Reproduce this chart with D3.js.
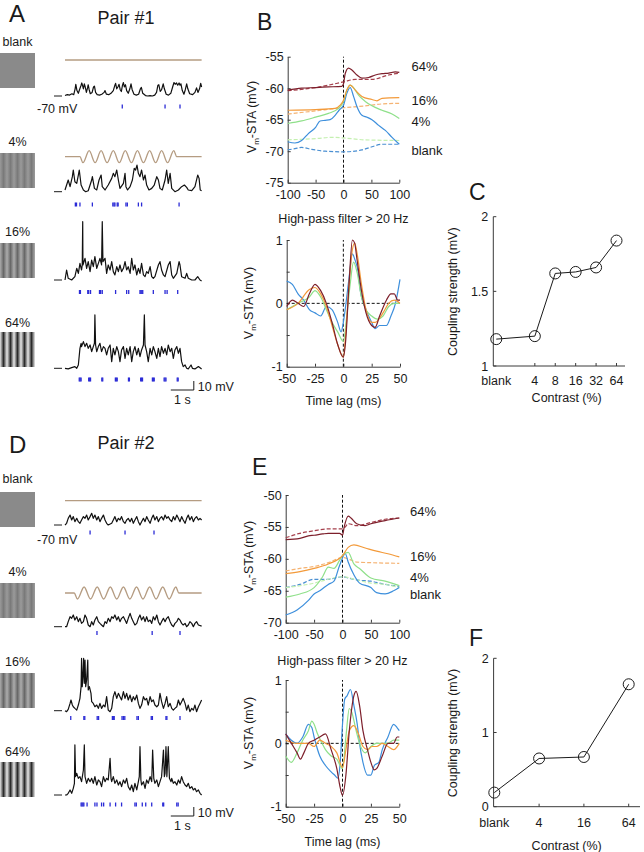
<!DOCTYPE html>
<html><head><meta charset="utf-8">
<script src="https://cdn.jsdelivr.net/npm/d3@7"></script>
<style>
body{margin:0;background:#fff;}
svg{display:block;font-family:"Liberation Sans",Arial,Helvetica,sans-serif;}
</style></head><body>
<svg id="fig" width="644" height="852"></svg>
<script>
// ---------------- DATA ----------------
const conditions = ["blank", "4%", "16%", "64%"];
const gratingContrast = [0, 4, 16, 64];

// stimulus time courses (s, normalized luminance)
const stimFlat = [[0,0],[5.94,0]];
const stimSine1 = [[0,0],[0.65,0],[0.78,-1],[1.05,1],[1.31,-1],[1.57,1],[1.83,-1],[2.10,1],[2.36,-1],[2.62,1],[2.89,-1],[3.15,1],[3.41,-1],[3.68,1],[3.94,-1],[4.20,1],[4.46,-1],[4.73,1],[4.86,0],[5.94,0]];
const stimSine2 = [[0,0],[0.40,0],[0.54,-1],[0.83,1],[1.11,-1],[1.40,1],[1.68,-1],[1.97,1],[2.25,-1],[2.54,1],[2.82,-1],[3.11,1],[3.39,-1],[3.68,1],[3.96,-1],[4.25,1],[4.53,-1],[4.82,1],[4.95,0],[5.94,0]];

// Pair #1 membrane potential (s, mV)
const vmA_blank = [[0,-69.5],[0.1,-68.5],[0.2,-69],[0.3,-67.5],[0.38,-68.5],[0.44,-62],[0.47,-57],[0.52,-64],[0.58,-67],[0.63,-63],[0.7,-58],[0.73,-55.5],[0.77,-59],[0.8,-62],[0.84,-56.5],[0.88,-60],[0.93,-66],[0.98,-61],[1.01,-57.5],[1.05,-63],[1.1,-67.5],[1.18,-66],[1.24,-60],[1.28,-59],[1.33,-66],[1.4,-68.5],[1.5,-69],[1.6,-68],[1.7,-66],[1.74,-64],[1.8,-68],[1.9,-68.5],[2.0,-67],[2.1,-64],[2.17,-58],[2.2,-56],[2.25,-62],[2.3,-60],[2.35,-57],[2.4,-63],[2.45,-65],[2.5,-58],[2.54,-55],[2.58,-60],[2.63,-57.5],[2.68,-64],[2.75,-67],[2.82,-62],[2.87,-56.5],[2.92,-63],[3.0,-68],[3.1,-69],[3.2,-68],[3.28,-62],[3.32,-60.5],[3.38,-67],[3.5,-69.5],[3.6,-70],[3.7,-69.5],[3.8,-70],[3.9,-69],[3.98,-66],[4.04,-58],[4.08,-57.5],[4.14,-65],[4.2,-63],[4.27,-56.5],[4.32,-62],[4.4,-68],[4.5,-69],[4.6,-67],[4.68,-60],[4.74,-55],[4.79,-57],[4.85,-55.5],[4.9,-58],[4.96,-55.5],[5.0,-58],[5.04,-56.5],[5.1,-64],[5.17,-68],[5.23,-63],[5.29,-56.5],[5.34,-62],[5.42,-67.5],[5.55,-68.5],[5.65,-66],[5.72,-61],[5.78,-66],[5.85,-62],[5.9,-56],[5.94,-60]];
const vmA_4 = [[0.00,-68.1],[0.07,-62.6],[0.14,-57.0],[0.22,-64.4],[0.32,-53.3],[0.36,-45.9],[0.43,-58.9],[0.51,-60.7],[0.58,-51.5],[0.62,-45.9],[0.70,-62.6],[0.80,-68.1],[0.90,-70],[1.01,-68.9],[1.16,-57.0],[1.19,-53.3],[1.28,-66.3],[1.38,-68.1],[1.48,-57.0],[1.57,-51.5],[1.62,-64.4],[1.74,-68.1],[1.88,-62.6],[2.03,-55.2],[2.10,-49.6],[2.17,-53.3],[2.25,-45.9],[2.32,-57.0],[2.39,-66.3],[2.54,-60.7],[2.61,-49.6],[2.65,-64.4],[2.72,-68.1],[2.83,-64.4],[2.93,-57.0],[3.01,-44.1],[3.07,-45.9],[3.13,-40.4],[3.19,-49.6],[3.26,-53.3],[3.33,-45.9],[3.41,-57.0],[3.48,-51.5],[3.55,-62.6],[3.65,-68.1],[3.77,-66.3],[3.88,-62.6],[3.99,-53.3],[4.06,-57.0],[4.13,-66.3],[4.23,-68.1],[4.35,-57.0],[4.42,-45.9],[4.49,-60.7],[4.57,-49.6],[4.64,-66.3],[4.78,-70],[4.93,-68.1],[5.07,-64.4],[5.19,-62.6],[5.29,-65.2],[5.36,-68.1],[5.51,-68.9],[5.65,-64.4],[5.77,-51.5],[5.83,-55.2],[5.88,-68.1],[5.94,-68.9]];
const vmA_16 = [[0.00,-70],[0.07,-58.9],[0.14,-68.1],[0.29,-70],[0.43,-66.3],[0.51,-57.0],[0.58,-62.6],[0.65,-51.5],[0.72,-58.9],[0.75,-53.3],[0.77,-5.2],[0.78,-53.3],[0.87,-45.9],[0.94,-57.0],[1.01,-49.6],[1.09,-60.7],[1.16,-47.8],[1.23,-55.2],[1.30,-44.1],[1.38,-57.0],[1.45,-51.5],[1.52,-45.9],[1.59,-53.3],[1.62,-5.2],[1.65,-49.6],[1.74,-45.9],[1.81,-62.6],[1.88,-53.3],[1.96,-58.9],[2.03,-49.6],[2.10,-60.7],[2.17,-64.4],[2.25,-55.2],[2.32,-60.7],[2.39,-53.3],[2.46,-60.7],[2.54,-57.0],[2.61,-49.6],[2.68,-58.9],[2.75,-55.2],[2.83,-62.6],[2.90,-45.9],[2.97,-58.9],[3.04,-53.3],[3.12,-64.4],[3.19,-57.0],[3.26,-62.6],[3.33,-51.5],[3.41,-64.4],[3.48,-66.3],[3.55,-60.7],[3.62,-62.6],[3.70,-55.2],[3.77,-66.3],[3.84,-68.1],[3.91,-66.3],[4.06,-53.3],[4.13,-49.6],[4.20,-58.9],[4.28,-64.4],[4.35,-66.3],[4.49,-53.3],[4.57,-49.6],[4.64,-64.4],[4.71,-68.1],[4.86,-62.6],[4.96,-49.6],[5.00,-53.3],[5.07,-66.3],[5.22,-68.1],[5.29,-62.6],[5.36,-68.1],[5.51,-70],[5.65,-70],[5.77,-66.3],[5.87,-70],[5.94,-71]];
const vmA_64 = [[0.00,-70],[0.14,-70.7],[0.29,-69.3],[0.43,-68.1],[0.51,-70],[0.58,-66.3],[0.65,-47.8],[0.70,-42.2],[0.72,-45.9],[0.80,-40.4],[0.87,-45.9],[0.94,-42.2],[1.01,-47.8],[1.09,-44.1],[1.16,-51.5],[1.23,-45.9],[1.28,-42.2],[1.30,-10.7],[1.33,-44.1],[1.38,-51.5],[1.45,-45.9],[1.52,-42.2],[1.59,-51.5],[1.67,-45.9],[1.74,-47.8],[1.81,-55.2],[1.88,-47.8],[1.96,-44.1],[2.03,-62.6],[2.10,-47.8],[2.17,-55.2],[2.25,-45.9],[2.32,-51.5],[2.39,-62.6],[2.46,-49.6],[2.54,-45.9],[2.61,-58.9],[2.68,-47.8],[2.75,-55.2],[2.83,-45.9],[2.90,-62.6],[2.97,-51.5],[3.04,-45.9],[3.12,-55.2],[3.19,-47.8],[3.26,-57.0],[3.33,-49.6],[3.41,-44.1],[3.45,-10.7],[3.48,-44.1],[3.55,-51.5],[3.62,-62.6],[3.70,-47.8],[3.77,-55.2],[3.84,-45.9],[3.91,-51.5],[3.99,-58.9],[4.06,-47.8],[4.13,-57.0],[4.20,-45.9],[4.28,-53.3],[4.35,-47.8],[4.42,-55.2],[4.49,-44.1],[4.57,-51.5],[4.64,-47.8],[4.71,-58.9],[4.78,-49.6],[4.86,-45.9],[4.93,-53.3],[5.00,-47.8],[5.07,-62.6],[5.14,-68.1],[5.22,-66.3],[5.29,-70],[5.36,-70.7],[5.48,-66.3],[5.54,-70],[5.65,-70.7],[5.80,-68.1],[5.94,-70.7]];

// Pair #2 membrane potential (s, mV)
const vmD_blank = [[0.00,-70],[0.07,-68.1],[0.14,-62.6],[0.22,-58.9],[0.29,-64.4],[0.36,-60.7],[0.43,-66.3],[0.51,-62.6],[0.58,-66.3],[0.65,-68.1],[0.72,-64.4],[0.80,-60.7],[0.87,-62.6],[0.94,-58.9],[1.01,-64.4],[1.09,-60.7],[1.16,-57.0],[1.23,-62.6],[1.30,-58.9],[1.38,-64.4],[1.45,-60.7],[1.52,-66.3],[1.59,-62.6],[1.67,-58.9],[1.74,-64.4],[1.81,-68.1],[1.88,-70],[2.03,-68.1],[2.10,-64.4],[2.17,-60.7],[2.25,-66.3],[2.32,-62.6],[2.39,-64.4],[2.46,-60.7],[2.54,-66.3],[2.61,-68.1],[2.68,-64.4],[2.75,-62.6],[2.83,-66.3],[2.90,-62.6],[2.97,-68.1],[3.04,-64.4],[3.12,-60.7],[3.19,-66.3],[3.26,-70],[3.33,-66.3],[3.41,-62.6],[3.48,-66.3],[3.55,-60.7],[3.62,-64.4],[3.70,-68.1],[3.77,-62.6],[3.84,-58.9],[3.91,-64.4],[3.99,-60.7],[4.06,-66.3],[4.13,-62.6],[4.20,-60.7],[4.28,-64.4],[4.35,-58.9],[4.42,-62.6],[4.49,-60.7],[4.57,-64.4],[4.64,-66.3],[4.71,-60.7],[4.78,-64.4],[4.86,-58.9],[4.93,-62.6],[5.00,-66.3],[5.07,-60.7],[5.14,-64.4],[5.22,-68.1],[5.29,-62.6],[5.36,-58.9],[5.43,-64.4],[5.51,-60.7],[5.58,-66.3],[5.65,-62.6],[5.72,-60.7],[5.80,-64.4],[5.87,-62.6],[5.94,-64.4]];
const vmD_4 = [[0.00,-70],[0.07,-70],[0.14,-64.4],[0.22,-58.9],[0.29,-60.7],[0.36,-57.0],[0.43,-62.6],[0.51,-58.9],[0.58,-64.4],[0.65,-60.7],[0.72,-66.3],[0.80,-64.4],[0.87,-57.0],[0.94,-60.7],[1.01,-68.1],[1.09,-70],[1.16,-64.4],[1.23,-68.1],[1.30,-62.6],[1.38,-58.9],[1.45,-64.4],[1.52,-66.3],[1.59,-68.1],[1.67,-70],[1.74,-64.4],[1.81,-66.3],[1.88,-60.7],[1.96,-64.4],[2.03,-58.9],[2.10,-60.7],[2.17,-57.0],[2.25,-62.6],[2.32,-58.9],[2.39,-64.4],[2.46,-60.7],[2.54,-58.9],[2.61,-62.6],[2.68,-66.3],[2.75,-60.7],[2.83,-55.2],[2.90,-60.7],[2.97,-64.4],[3.04,-68.1],[3.12,-66.3],[3.19,-60.7],[3.26,-57.0],[3.33,-62.6],[3.41,-58.9],[3.48,-64.4],[3.55,-58.9],[3.62,-64.4],[3.70,-62.6],[3.77,-66.3],[3.84,-58.9],[3.91,-62.6],[3.99,-57.0],[4.06,-64.4],[4.13,-68.1],[4.20,-64.4],[4.28,-60.7],[4.35,-64.4],[4.42,-60.7],[4.49,-58.9],[4.57,-64.4],[4.64,-68.1],[4.71,-70],[4.78,-66.3],[4.86,-64.4],[4.93,-60.7],[5.00,-62.6],[5.07,-66.3],[5.14,-68.1],[5.22,-66.3],[5.29,-70],[5.36,-68.1],[5.43,-64.4],[5.51,-66.3],[5.58,-70],[5.65,-66.3],[5.72,-64.4],[5.80,-68.1],[5.94,-69.3]];
const vmD_16 = [[0.00,-70],[0.07,-71.1],[0.14,-68.5],[0.22,-61.9],[0.26,-58.1],[0.32,-63.7],[0.36,-65.6],[0.43,-67.4],[0.51,-69.3],[0.58,-63.7],[0.65,-56.3],[0.70,-43.3],[0.72,-11.9],[0.75,-43.3],[0.78,-32.2],[0.81,-11.9],[0.84,-39.6],[0.87,-13.7],[0.90,-43.3],[0.94,-35.9],[0.99,-13.7],[1.01,-47.0],[1.06,-43.3],[1.13,-50.7],[1.16,-60.0],[1.23,-61.9],[1.30,-65.6],[1.38,-63.7],[1.45,-67.4],[1.52,-61.9],[1.59,-67.4],[1.67,-63.7],[1.74,-65.6],[1.81,-54.4],[1.88,-69.3],[1.96,-71.1],[2.03,-67.4],[2.10,-54.4],[2.17,-48.9],[2.25,-56.3],[2.32,-50.7],[2.39,-54.4],[2.46,-58.1],[2.54,-48.9],[2.61,-56.3],[2.68,-50.7],[2.75,-58.1],[2.83,-52.6],[2.90,-60.0],[2.97,-54.4],[3.04,-58.1],[3.12,-52.6],[3.19,-61.9],[3.26,-67.4],[3.33,-63.7],[3.41,-54.4],[3.48,-58.1],[3.55,-56.3],[3.62,-63.7],[3.70,-54.4],[3.77,-60.0],[3.84,-58.1],[3.91,-63.7],[3.99,-65.6],[4.06,-63.7],[4.13,-50.7],[4.20,-60.0],[4.28,-67.4],[4.35,-61.9],[4.42,-54.4],[4.49,-65.6],[4.57,-61.9],[4.64,-67.4],[4.71,-69.3],[4.78,-67.4],[4.86,-65.6],[4.93,-58.1],[5.00,-63.7],[5.07,-60.0],[5.14,-56.3],[5.22,-61.9],[5.29,-69.3],[5.36,-63.7],[5.43,-71.1],[5.51,-67.4],[5.58,-69.3],[5.65,-63.7],[5.72,-71.1],[5.80,-65.6],[5.87,-61.9],[5.94,-58.1]];
const vmD_64 = [[0.00,-70],[0.07,-70],[0.14,-68.1],[0.22,-64.4],[0.29,-68.1],[0.36,-62.6],[0.41,-57.0],[0.43,-14.4],[0.46,-49.6],[0.51,-45.9],[0.58,-51.5],[0.65,-49.6],[0.72,-55.2],[0.80,-42.2],[0.84,-14.4],[0.87,-49.6],[0.94,-57.0],[1.01,-51.5],[1.09,-55.2],[1.16,-51.5],[1.23,-57.0],[1.30,-49.6],[1.38,-58.9],[1.45,-53.3],[1.52,-55.2],[1.59,-60.7],[1.67,-49.6],[1.74,-55.2],[1.81,-51.5],[1.88,-53.3],[1.96,-29.3],[2.00,-51.5],[2.03,-55.2],[2.10,-49.6],[2.17,-57.0],[2.25,-53.3],[2.32,-58.9],[2.39,-55.2],[2.46,-60.7],[2.54,-53.3],[2.61,-57.0],[2.68,-51.5],[2.75,-60.7],[2.83,-64.4],[2.90,-58.9],[2.97,-66.3],[3.04,-57.0],[3.12,-64.4],[3.19,-55.2],[3.23,-49.6],[3.26,-16.3],[3.30,-53.3],[3.33,-58.9],[3.41,-55.2],[3.48,-62.6],[3.55,-53.3],[3.62,-57.0],[3.70,-49.6],[3.77,-55.2],[3.81,-20.0],[3.86,-51.5],[3.91,-57.0],[3.99,-53.3],[4.06,-60.7],[4.13,-55.2],[4.20,-49.6],[4.28,-20.0],[4.32,-49.6],[4.35,-45.9],[4.39,-16.3],[4.43,-49.6],[4.49,-16.3],[4.54,-51.5],[4.61,-55.2],[4.64,-51.5],[4.71,-57.0],[4.78,-55.2],[4.86,-58.9],[4.93,-53.3],[5.00,-57.0],[5.07,-49.6],[5.14,-55.2],[5.22,-58.9],[5.29,-60.7],[5.36,-57.0],[5.43,-62.6],[5.51,-60.7],[5.58,-64.4],[5.65,-62.6],[5.72,-66.3],[5.80,-64.4],[5.87,-68.1],[5.94,-70]];

// spike times of partner cell (s)
const spkA_blank = [2.49, 4.35, 5.0];
const spkA_4 = [0.45, 0.50, 0.65, 1.19, 2.08, 2.13, 2.17, 2.27, 2.31, 2.65, 2.71, 3.19, 3.33, 4.96];
const spkA_16 = [0.63, 0.67, 0.99, 1.03, 1.11, 1.50, 1.55, 1.62, 2.20, 2.68, 2.77, 3.26, 3.30, 3.34, 3.38, 3.84, 4.35, 4.44, 4.90];
const spkA_64 = [0.62, 0.66, 0.70, 1.03, 1.07, 1.11, 1.60, 1.64, 2.19, 2.23, 2.27, 2.76, 2.80, 3.29, 3.33, 3.37, 3.80, 3.84, 3.88, 4.31, 4.35, 4.39, 4.88, 4.92];
const spkD_blank = [1.09, 2.61, 3.87];
const spkD_4 = [1.39, 3.79, 5.0];
const spkD_16 = [0.25, 0.82, 0.86, 1.40, 1.46, 2.06, 2.10, 2.14, 2.48, 2.54, 2.60, 3.13, 3.19, 3.75, 3.80, 4.39, 4.43, 5.0];
const spkD_64 = [0.70, 0.74, 0.78, 0.82, 0.96, 1.30, 1.39, 1.59, 1.68, 1.96, 2.20, 2.46, 3.04, 3.10, 3.36, 3.51, 3.77, 4.25, 4.29, 4.86, 4.92];

// Panel B: Vm-STA (lag ms, mV)
const b64Solid = [[-100,-60.3],[-75,-60.0],[-50,-59.9],[-27,-59.8],[-3,-59.7],[0,-59.3],[3,-57.7],[9,-56.8],[15,-57.1],[24,-57.9],[33,-58.4],[45,-58.3],[57,-57.9],[69,-57.7],[81,-57.6],[93,-57.4],[100,-57.5]];
const b64Dash = [[-100,-60.4],[-50,-59.9],[0,-59.0],[21,-58.6],[51,-58.6],[81,-57.9],[100,-57.6]];
const b16Solid = [[-100,-63.5],[-50,-63.4],[-15,-63.2],[-6,-62.7],[0,-61.9],[6,-60.3],[12,-59.5],[21,-60.3],[33,-61.3],[51,-61.8],[60,-62.0],[69,-61.6],[100,-61.5]];
const b16Dash = [[-100,-64.1],[-50,-63.6],[0,-63.1],[39,-62.8],[69,-62.5],[100,-62.4]];
const b4Solid = [[-100,-65.6],[-75,-65.2],[-50,-64.6],[-27,-64.0],[-9,-63.2],[0,-62.1],[6,-60.3],[12,-59.5],[18,-59.9],[27,-61.1],[39,-62.1],[51,-62.8],[69,-63.5],[87,-64.1],[100,-64.8]];
const b4Dash = [[-100,-68.2],[-50,-68.0],[-21,-67.8],[0,-67.9],[39,-68.2],[100,-68.3]];
const bBlankSolid = [[-100,-68.5],[-87,-68.7],[-75,-68.3],[-63,-67.2],[-50,-66.2],[-42,-65.2],[-33,-65.1],[-24,-65.0],[-15,-64.3],[-8,-63.5],[0,-62.7],[6,-60.8],[12,-59.9],[18,-61.3],[24,-62.9],[33,-64.3],[42,-64.6],[51,-65.0],[63,-65.9],[75,-66.7],[87,-67.8],[100,-68.9]];
const bBlankDash = [[-100,-69.8],[-87,-69.6],[-75,-69.4],[-57,-69.7],[-33,-70.0],[0,-70.1],[33,-69.8],[51,-69.3],[69,-68.9],[100,-68.9]];

// Panel B: high-pass filtered STA (lag ms, mV)
const hpB_blank = [[-50,0.35],[-45,0.3],[-40,0.15],[-35,0.05],[-30,-0.1],[-25,-0.15],[-20,-0.2],[-15,-0.05],[-10,-0.1],[-5,-0.3],[-2,-0.45],[0,-0.3],[3,0.1],[5,0.4],[8,0.78],[10,0.7],[13,0.5],[15,0.2],[20,-0.1],[25,-0.3],[28,-0.4],[32,-0.35],[38,-0.35],[42,-0.2],[46,0.0],[50,0.38]];
const hpB_4 = [[-50,-0.1],[-40,0.0],[-30,0.1],[-25,0.2],[-20,0.1],[-15,-0.1],[-10,-0.3],[-5,-0.45],[0,-0.6],[3,-0.2],[6,0.3],[9,0.65],[12,0.5],[16,0.1],[20,-0.1],[25,-0.2],[30,-0.25],[35,-0.2],[40,-0.05],[45,0.0],[50,0.0]];
const hpB_16 = [[-50,-0.1],[-40,0.0],[-30,0.22],[-25,0.25],[-20,0.15],[-15,-0.05],[-10,-0.35],[-5,-0.65],[0,-0.85],[2,-0.5],[5,0.3],[8,0.85],[10,0.95],[12,0.8],[16,0.3],[20,-0.1],[25,-0.3],[28,-0.3],[35,-0.15],[40,0.0],[45,0.05],[50,0.0]];
const hpB_64 = [[-50,-0.05],[-45,0.05],[-40,0.0],[-35,-0.05],[-30,0.15],[-25,0.3],[-20,0.2],[-15,0.0],[-10,-0.3],[-5,-0.65],[0,-0.85],[2,-0.6],[5,0.3],[8,1.0],[10,0.95],[12,0.7],[16,0.2],[20,-0.15],[25,-0.35],[28,-0.38],[32,-0.2],[38,0.05],[42,0.15],[45,0.15],[48,0.05],[50,0.05]];

// Panel E: Vm-STA
const e64Solid = [[-100,-57.0],[-75,-56.8],[-60,-56.4],[-50,-56.3],[-35,-56.1],[-25,-56.0],[-5,-56.0],[0,-56.3],[3,-55.0],[10,-53.3],[15,-53.6],[25,-54.5],[40,-54.8],[50,-54.5],[75,-54.0],[100,-53.6]];
const e64Dash = [[-100,-56.7],[-75,-56.0],[-50,-55.6],[-25,-55.3],[0,-55.3],[5,-55.0],[10,-54.5],[25,-54.8],[50,-54.3],[75,-53.8],[100,-53.6]];
const e16Solid = [[-100,-62.3],[-75,-62.0],[-50,-61.5],[-25,-60.8],[0,-59.5],[10,-58.2],[20,-57.8],[40,-58.3],[60,-58.8],[80,-59.2],[100,-59.7]];
const e16Dash = [[-100,-61.9],[-75,-61.5],[-50,-61.2],[-25,-60.6],[0,-59.8],[10,-60.0],[25,-60.5],[50,-60.6],[100,-60.7]];
const e4Solid = [[-100,-66],[-75,-65.5],[-50,-64.5],[-35,-62.8],[-25,-61.3],[-15,-61.5],[-5,-60.2],[0,-59.5],[10,-59.0],[20,-60.8],[30,-61.5],[50,-63.0],[75,-63.5],[100,-64.2]];
const e4Dash = [[-100,-64.5],[-50,-63.8],[-25,-63.2],[0,-62.8],[25,-63.3],[50,-63.8],[75,-64.0],[100,-64.5]];
const eBlankSolid = [[-100,-68.8],[-80,-68.0],[-60,-66.5],[-50,-65.5],[-40,-65.0],[-25,-64.0],[-15,-63.5],[-5,-61.0],[5,-59.2],[10,-60.5],[20,-62.5],[30,-63.8],[50,-64.5],[60,-65.3],[75,-65.5],[90,-65.0],[100,-64.5]];
const eBlankDash = [[-100,-64.5],[-75,-64.0],[-50,-63.2],[-25,-63.2],[0,-62.8],[10,-63.0],[25,-63.3],[50,-63.5],[75,-64.0],[100,-64.3]];

// Panel E: high-pass filtered STA
const hpE_blank = [[-50,0.15],[-45,0.05],[-40,0.0],[-35,0.1],[-30,0.3],[-27,0.25],[-25,0.1],[-20,-0.2],[-15,-0.35],[-10,-0.45],[-7,-0.5],[-4,-0.55],[-2,-0.3],[0,0.3],[2,0.7],[4,0.75],[7,0.85],[10,0.6],[13,0.3],[15,0.0],[18,-0.3],[22,-0.5],[25,-0.5],[28,-0.35],[32,-0.3],[35,-0.1],[40,0.1],[45,0.3],[48,0.25],[50,0.2]];
const hpE_4 = [[-50,-0.2],[-45,-0.3],[-40,-0.15],[-35,0.05],[-30,0.2],[-27,0.35],[-25,0.3],[-22,0.15],[-18,0.0],[-15,-0.1],[-10,-0.2],[-5,-0.25],[0,-0.4],[3,0.1],[6,0.55],[8,0.5],[12,0.2],[15,0.0],[20,-0.15],[25,-0.05],[30,0.0],[35,0.0],[40,0.0],[45,0.05],[50,0.05]];
const hpE_16 = [[-50,0.05],[-40,0.0],[-30,0.0],[-25,-0.05],[-20,0.05],[-15,0.0],[-10,-0.05],[-5,-0.15],[0,-0.38],[3,-0.1],[6,0.2],[10,0.28],[14,0.15],[18,-0.05],[22,-0.1],[26,-0.05],[30,-0.05],[35,0.0],[40,-0.05],[45,-0.1],[50,0.0]];
const hpE_64 = [[-50,0.15],[-45,0.0],[-40,-0.15],[-37,-0.25],[-34,-0.15],[-30,0.0],[-25,0.05],[-20,0.1],[-15,0.15],[-10,-0.1],[-5,-0.4],[-2,-0.7],[0,-0.82],[3,-0.5],[6,0.2],[10,0.75],[12,0.82],[15,0.6],[18,0.2],[22,-0.1],[25,-0.3],[28,-0.42],[30,-0.4],[35,-0.2],[40,0.0],[45,0.0],[48,0.1],[50,0.1]];

// Panels C and F: coupling strength
const contrastC = ["blank", "4", "8", "16", "32", "64"];
const couplingC = [1.18, 1.20, 1.62, 1.63, 1.66, 1.84];
const contrastF = ["blank", "4", "16", "64"];
const couplingF = [0.19, 0.65, 0.67, 1.65];

const staTicksTopB = [-75, -70, -65, -60, -55];
const staTicksTopE = [-70, -65, -60, -55, -50];
const lagTicksTop = [-100, -50, 0, 50, 100];
const hpTicksY = [-1, -0.5, 0, 0.5, 1];
const lagTicksHp = [-50, -25, 0, 25, 50];

// ---------------- DRAWING ----------------
const svg = d3.select("#fig");
const INK = "#1a1a1a", AX = "#3a3a3a";
const COL = {blank: "#3d8fdc", "4%": "#8fe08a", "16%": "#f39a3a", "64%": "#7d1f2b"};
const COLD = {blank: "#4a8fd2", "4%": "#c4f0b0", "16%": "#f5b373", "64%": "#a5404c"};

function txt(x, y, s, size, anchor) {
  return svg.append("text").attr("x", x).attr("y", y).attr("font-size", size)
    .attr("text-anchor", anchor || "start").attr("fill", INK).text(s);
}
function rotLabel(x, cy, s, sub) {
  const t = svg.append("text").attr("transform", `translate(${x},${cy}) rotate(-90)`)
    .attr("text-anchor", "middle").attr("font-size", 12.5).attr("fill", INK);
  if (sub) {
    t.append("tspan").text("V");
    t.append("tspan").attr("font-size", 8).attr("dy", 3).text("m");
    t.append("tspan").attr("dy", -3).text("-STA (mV)");
  } else t.text(s);
}

// --- grating patches
const defs = svg.append("defs");
const gratingAmp = {0: 0, 4: 16, 16: 34, 64: 95};
gratingContrast.forEach(c => {
  const g = defs.append("linearGradient").attr("id", "gr" + c)
    .attr("gradientUnits", "userSpaceOnUse").attr("x1", 0).attr("x2", 7).attr("y1", 0).attr("y2", 0)
    .attr("spreadMethod", "repeat");
  const mid = 138, a = gratingAmp[c];
  const hi = d3.rgb(Math.min(255, mid + a), Math.min(255, mid + a), Math.min(255, mid + a));
  const lo = d3.rgb(mid - a, mid - a, mid - a);
  [[0, hi], [0.25, d3.rgb(mid, mid, mid)], [0.5, lo], [0.75, d3.rgb(mid, mid, mid)], [1, hi]].forEach(([o, col]) =>
    g.append("stop").attr("offset", o).attr("stop-color", col.formatHex()));
});

const tx = d3.scaleLinear().domain([0, 6]).range([65, 203]);

function drawPair(rows, vms, spks, stims, title, letter, letterY, titleY, mvY, scaleY) {
  txt(9, letterY, letter, 24);
  txt(126, titleY, title, 18, "middle");
  rows.forEach((r, i) => {
    txt(17.5, r.labelY, conditions[i], 12.5, "middle");
    svg.append("rect").attr("x", 0).attr("y", r.sqY).attr("width", 35).attr("height", 35)
      .attr("fill", `url(#gr${gratingContrast[i]})`);
    const ty = d3.scaleLinear().domain([-70, -60]).range([r.baseY, r.baseY - 9]);
    svg.append("line").attr("x1", 54).attr("x2", 62).attr("y1", r.baseY).attr("y2", r.baseY)
      .attr("stroke", INK).attr("stroke-width", 1);
    svg.append("path").datum(vms[i]).attr("fill", "none").attr("stroke", "#111").attr("stroke-width", 1.2)
      .attr("stroke-linejoin", "round")
      .attr("d", d3.line().x(d => tx(d[0])).y(d => ty(d[1])));
    svg.selectAll(null).data(spks[i]).enter().append("line")
      .attr("x1", d => tx(d)).attr("x2", d => tx(d)).attr("y1", r.spikeY).attr("y2", r.spikeY + 4)
      .attr("stroke", "#2b2bd6").attr("stroke-width", 1.3);
    if (stims[i]) {
      const sy = d3.scaleLinear().domain([-1, 1]).range([r.stimY + 6, r.stimY - 6]);
      svg.append("path").datum(stims[i]).attr("fill", "none").attr("stroke", "#b59c82").attr("stroke-width", 1.3)
        .attr("d", d3.line().curve(d3.curveMonotoneX).x(d => tx(d[0])).y(d => sy(d[1])));
    }
  });
  txt(37, mvY, "-70 mV", 12.5);
  // scale bars
  const sx0 = tx(4.6), sx1 = tx(5.6);
  svg.append("path").attr("d", `M${sx0},${scaleY}H${sx1}V${scaleY - 9}`).attr("fill", "none")
    .attr("stroke", INK).attr("stroke-width", 1);
  txt(sx1 + 4, scaleY + 1, "10 mV", 12.5);
  txt((sx0 + sx1) / 2, scaleY + 14, "1 s", 12.5, "middle");
}

drawPair([
  {labelY: 46, sqY: 53, stimY: 60, baseY: 96, spikeY: 104.5},
  {labelY: 146, sqY: 153, stimY: 156.7, baseY: 191.7, spikeY: 202.5},
  {labelY: 236, sqY: 243, baseY: 280, spikeY: 290},
  {labelY: 327, sqY: 332, baseY: 368.3, spikeY: 377.5}
], [vmA_blank, vmA_4, vmA_16, vmA_64], [spkA_blank, spkA_4, spkA_16, spkA_64],
   [stimFlat, stimSine1, null, null], "Pair #1", "A", 22, 24, 113, 390);

drawPair([
  {labelY: 483, sqY: 492, stimY: 500.7, baseY: 525, spikeY: 530.5},
  {labelY: 576, sqY: 583, stimY: 593, baseY: 626.7, spikeY: 631},
  {labelY: 666, sqY: 673, baseY: 710.7, spikeY: 716},
  {labelY: 756, sqY: 762, baseY: 795, spikeY: 802.5}
], [vmD_blank, vmD_4, vmD_16, vmD_64], [spkD_blank, spkD_4, spkD_16, spkD_64],
   [stimFlat, stimSine2, null, null], "Pair #2", "D", 453, 449, 544, 816);

// --- axes helper (inward ticks)
function axes(x, y, xt, yt, yFmt) {
  const gx = svg.append("g").attr("transform", `translate(0,${y.range()[0]})`)
    .call(d3.axisBottom(x).tickValues(xt).tickSizeInner(-3).tickSizeOuter(0).tickPadding(7).tickFormat(d => String(d)));
  const gy = svg.append("g").attr("transform", `translate(${x.range()[0]},0)`)
    .call(d3.axisLeft(y).tickValues(yt).tickSizeInner(-3).tickSizeOuter(0).tickPadding(4).tickFormat(yFmt || (d => String(d))));
  [gx, gy].forEach(g => {
    g.selectAll("path,line").attr("stroke", AX);
    g.selectAll("text").attr("font-size", 12.5).attr("fill", INK);
    g.attr("font-family", null).attr("font-size", null);
  });
}
function zeroLines(x, y, horiz) {
  svg.append("line").attr("x1", x(0)).attr("x2", x(0)).attr("y1", y.range()[0]).attr("y2", y.range()[1])
    .attr("stroke", "#111").attr("stroke-dasharray", "3,2");
  if (horiz) svg.append("line").attr("x1", x.range()[0]).attr("x2", x.range()[1]).attr("y1", y(0)).attr("y2", y(0))
    .attr("stroke", "#111").attr("stroke-dasharray", "3,2");
}
function series(x, y, data, color, dashed) {
  svg.append("path").datum(data).attr("fill", "none").attr("stroke", color).attr("stroke-width", 1.2)
    .attr("stroke-dasharray", dashed ? "4,2" : null)
    .attr("d", d3.line().curve(d3.curveMonotoneX).x(d => x(d[0])).y(d => y(d[1])));
}

function staPanel(xr, yr, ydom, yticks, solids, dashes, letter, letterPos, labelX, labelYs, ylab, hpTitleY) {
  const x = d3.scaleLinear().domain([-100, 100]).range(xr);
  const y = d3.scaleLinear().domain(ydom).range(yr);
  txt(letterPos[0], letterPos[1], letter, 23);
  axes(x, y, lagTicksTop, yticks);
  zeroLines(x, y, false);
  const keys = ["blank", "4%", "16%", "64%"];
  keys.forEach((k, i) => series(x, y, dashes[i], COLD[k], true));
  keys.forEach((k, i) => series(x, y, solids[i], COL[k], false));
  ["64%", "16%", "4%", "blank"].forEach((k, i) => txt(labelX, labelYs[i], k, 13));
  rotLabel(ylab[0], ylab[1], "", true);
  txt((xr[0] + xr[1]) / 2, hpTitleY, "High-pass filter > 20 Hz", 12.5, "middle");
}
function hpPanel(xr, yr, data, ylab, xlabY) {
  const x = d3.scaleLinear().domain([-50, 50]).range(xr);
  const y = d3.scaleLinear().domain([-1, 1]).range(yr);
  axes(x, y, lagTicksHp, hpTicksY, d => Number.isInteger(d) ? String(d) : "");
  zeroLines(x, y, true);
  const keys = ["blank", "4%", "16%", "64%"];
  keys.forEach((k, i) => series(x, y, data[i], COL[k], false));
  rotLabel(ylab[0], ylab[1], "", true);
  txt((xr[0] + xr[1]) / 2, xlabY, "Time lag (ms)", 12.5, "middle");
}

staPanel([287.7, 399.3], [182.7, 56.7], [-75, -55], staTicksTopB,
  [bBlankSolid, b4Solid, b16Solid, b64Solid], [bBlankDash, b4Dash, b16Dash, b64Dash],
  "B", [257, 30], 411.5, [71, 104.5, 126, 154.5], [256, 117], 223);
hpPanel([286.7, 400], [366.7, 240], [hpB_blank, hpB_4, hpB_16, hpB_64], [253, 303], 404.5);

staPanel([285.7, 399.3], [622.7, 495], [-70, -50], staTicksTopE,
  [eBlankSolid, e4Solid, e16Solid, e64Solid], [eBlankDash, e4Dash, e16Dash, e64Dash],
  "E", [252, 475], 410, [516, 561, 581.5, 598.5], [253, 557], 665);
hpPanel([285.7, 399.3], [806.7, 680], [hpE_blank, hpE_4, hpE_16, hpE_64], [253, 733], 846);

// --- coupling panels
function couplePanel(cats, vals, xr, blankAt, axisEnd, ydom, yr, yticks, letter, letterPos, ylab, tickLabY, xlab) {
  const x = d3.scaleLog().base(2).domain([1, 64]).range(xr);
  const y = d3.scaleLinear().domain(ydom).range(yr);
  const pos = c => c === "blank" ? x(blankAt) : x(+c);
  txt(letterPos[0], letterPos[1], letter, 23);
  const x0 = xr[0] - 0.7;
  svg.append("line").attr("x1", x0).attr("x2", axisEnd).attr("y1", yr[0]).attr("y2", yr[0]).attr("stroke", AX);
  svg.append("line").attr("x1", x0).attr("x2", x0).attr("y1", yr[0]).attr("y2", yr[1]).attr("stroke", AX);
  yticks.forEach(v => {
    svg.append("line").attr("x1", x0).attr("x2", x0 + 3).attr("y1", y(v)).attr("y2", y(v)).attr("stroke", AX);
    txt(x0 - 5, y(v) + 4.5, String(v), 12.5, "end");
  });
  cats.forEach(c => {
    if (c !== "blank") svg.append("line").attr("x1", pos(c)).attr("x2", pos(c)).attr("y1", yr[0]).attr("y2", yr[0] - 3).attr("stroke", AX);
    txt(pos(c), tickLabY, c, 12.5, "middle");
  });
  const pts = cats.map((c, i) => [pos(c), y(vals[i])]);
  svg.append("path").datum(pts).attr("fill", "none").attr("stroke", INK).attr("stroke-width", 1)
    .attr("d", d3.line());
  svg.selectAll(null).data(pts).enter().append("circle").attr("cx", d => d[0]).attr("cy", d => d[1])
    .attr("r", 5.5).attr("fill", "none").attr("stroke", INK).attr("stroke-width", 1);
  rotLabel(ylab[0], ylab[1], "Coupling strength (mV)");
  txt(xlab[0], xlab[1], "Contrast (%)", 12.5, "middle");
}
couplePanel(contrastC, couplingC, [494, 616.5], 1.08, 625, [1, 2], [366, 216.7], [1, 1.5, 2],
  "C", [469, 200], [457, 291.7], 385, [566.7, 402]);
couplePanel(contrastF, couplingF, [494.3, 628.7], 1, 640, [0, 2], [806.7, 658.3], [0, 1, 2],
  "F", [469, 646], [457, 733], 827, [566.7, 849.5]);
</script></body></html>
